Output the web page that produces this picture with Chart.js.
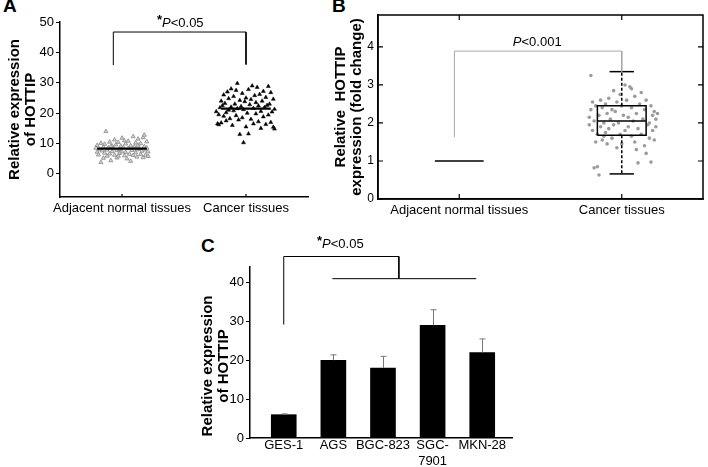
<!DOCTYPE html>
<html>
<head>
<meta charset="utf-8">
<script src="https://cdn.jsdelivr.net/npm/chart.js@4.4.0/dist/chart.umd.min.js"></script>
<style>
  body { margin: 0; background: #fff; width: 708px; height: 467px; position: relative; overflow: hidden;
         font-family: 'Liberation Sans', Arial, sans-serif; }
  canvas { position: absolute; }
  .tag { position: absolute; font-weight: bold; font-size: 19px; line-height: 1; color: #000; }
</style>
</head>
<body>
<div class="tag" style="left:3px;top:-4px">A</div>
<div class="tag" style="left:332px;top:-4px">B</div>
<div class="tag" style="left:201px;top:236px">C</div>
<canvas id="chartA" style="left:0;top:0" width="320" height="240"></canvas>
<canvas id="chartB" style="left:330px;top:0" width="378" height="240"></canvas>
<canvas id="chartC" style="left:195px;top:235px" width="330" height="232"></canvas>
<script>
// ---- data ----
const groupLabels = ['Adjacent normal tissues', 'Cancer tissues'];

// panel A: tissue samples (jitter offset from group centre, value)
const normalJitterA = [-0.21,-0.20,-0.20,-0.19,-0.18,-0.17,-0.17,-0.16,-0.15,-0.14,-0.14,-0.13,-0.12,-0.12,-0.11,-0.10,-0.10,-0.09,-0.08,-0.08,
  -0.07,-0.06,-0.06,-0.05,-0.04,-0.04,-0.03,-0.02,-0.02,-0.01,0.00,0.00,0.01,0.02,0.03,0.03,0.04,0.05,0.05,0.06,
  0.07,0.07,0.08,0.09,0.09,0.10,0.11,0.11,0.12,0.13,0.13,0.14,0.15,0.15,0.16,0.17,0.17,0.18,0.18,0.19,
  0.19,0.20,0.20,0.21,0.21,-0.15,-0.03,0.12,-0.09,0.02];
const normalValuesA = [8.5,7.2,9.4,6.3,8.0,3.8,10.1,7.6,8.8,6.9,9.8,14.0,7.9,5.9,8.6,10.5,6.6,4.4,9.2,7.4,
  8.3,11.2,6.2,9.6,7.7,5.3,10.4,8.1,6.8,9.1,7.3,11.8,8.7,6.0,9.9,7.1,5.0,8.4,10.8,6.5,
  4.2,9.3,7.8,12.3,6.1,8.9,10.2,7.0,5.6,9.5,11.5,8.2,6.4,10.0,7.5,12.0,5.4,9.0,12.8,7.9,
  6.2,8.6,10.6,7.3,5.8,5.2,5.9,8.0,9.0,10.9];
const cancerJitterA = [-0.24,-0.23,-0.22,-0.22,-0.21,-0.20,-0.20,-0.19,-0.18,-0.18,-0.17,-0.16,-0.16,-0.15,-0.14,-0.14,-0.13,-0.12,-0.12,-0.11,
  -0.10,-0.10,-0.09,-0.08,-0.08,-0.07,-0.07,-0.06,-0.05,-0.05,-0.04,-0.03,-0.03,-0.02,-0.02,-0.01,0.00,0.00,0.01,0.02,
  0.02,0.03,0.04,0.04,0.05,0.06,0.06,0.07,0.08,0.08,0.09,0.10,0.10,0.11,0.12,0.12,0.13,0.14,0.14,0.15,
  0.16,0.16,0.17,0.18,0.18,0.19,0.20,0.20,0.21,0.22,0.22,0.23,0.23];
const cancerValuesA = [20.5,16.5,19.5,16.2,21.8,24.0,16.8,22.5,19.0,26.0,23.2,17.5,20.2,27.0,21.0,24.8,18.2,22.0,28.0,16.0,
  25.5,20.8,23.0,19.2,27.5,29.8,21.5,17.8,24.2,13.0,22.2,26.5,18.5,10.3,21.2,23.8,15.5,25.0,20.0,13.2,
  27.8,22.8,18.0,24.5,29.0,21.6,16.5,25.8,19.8,23.5,28.5,17.2,22.4,26.2,20.6,15.0,24.0,18.8,27.2,21.9,
  16.3,25.2,22.6,19.4,28.8,23.0,17.0,26.8,20.4,15.4,24.6,21.3,14.8];
const meansA = [8.3, 21.5];
const yTicksA = [0, 10, 20, 30, 40, 50];

// panel B: fold change
const foldJitterB = [-0.19,-0.20,-0.20,-0.19,-0.18,-0.18,-0.17,-0.17,-0.16,-0.16,-0.15,-0.15,-0.14,-0.14,-0.13,-0.13,-0.12,-0.12,-0.11,-0.10,
  -0.10,-0.09,-0.09,-0.08,-0.08,-0.07,-0.06,-0.06,-0.05,-0.05,-0.04,-0.03,-0.03,-0.02,-0.01,0.00,0.00,0.01,0.02,0.02,
  0.03,0.04,0.04,0.05,0.06,0.06,0.07,0.08,0.08,0.09,0.10,0.10,0.11,0.12,0.12,0.13,0.14,0.14,0.15,0.15,
  0.16,0.17,0.17,0.18,0.18,0.19,0.19,0.20,0.20,0.21,0.21,0.22,0.06,-0.01,0.09,-0.11];
const foldValuesB = [3.25,2.15,1.95,2.35,1.8,2.55,2.05,0.82,1.5,2.45,0.85,1.7,2.2,0.63,1.9,2.6,1.55,2.4,2.0,1.75,
  2.5,2.25,1.45,2.65,1.85,2.1,2.35,1.6,2.85,1.95,2.3,1.35,2.55,2.0,1.7,2.45,1.45,2.2,3.0,1.8,
  2.6,1.9,2.15,2.95,1.65,2.4,2.05,1.5,2.7,2.25,0.95,1.85,2.5,2.8,1.7,2.1,1.4,2.35,1.2,2.6,
  1.95,2.0,1.6,2.45,0.97,1.8,2.2,2.3,1.55,2.1,1.9,2.25,2.9,2.75,1.3,1.65];
const normalFoldB = 1;
const cancerBoxB = [0.66, 1.68, 2.05, 2.45, 3.35]; // low whisker, Q1, median, Q3, high whisker
const yTicksB = [0, 1, 2, 3, 4];

// panel C: cell lines
const cellLines = ['GES-1', 'AGS', 'BGC-823', 'SGC-7901', 'MKN-28'];
const cellExpr = [6, 20, 18, 29, 22];
const cellErr = [0.2, 1.4, 3.0, 4.0, 3.5];
const yTicksC = [0, 10, 20, 30, 40];

// ---- shared setup ----
Chart.defaults.font.family = "'Liberation Sans', Arial, sans-serif";
Chart.defaults.font.size = 13;
Chart.defaults.color = '#000';
Chart.defaults.animation = false;
Chart.defaults.responsive = false;
Chart.defaults.plugins.legend.display = false;
Chart.defaults.plugins.tooltip.enabled = false;

const FONT = "'Liberation Sans', Arial, sans-serif";

function seg(points, color, width, dash, extra) {
  return Object.assign({
    type: 'scatter', data: points, showLine: true, borderColor: color, borderWidth: width,
    borderDash: dash || [], pointRadius: 0, fill: false, order: 0,
  }, extra || {});
}

function fixTicks(values) {
  return s => { s.ticks = values.map(v => ({ value: v })); };
}

// ticks drawn inside the plot area (matlab style) plus optional box
function innerTicks(opts) {
  return {
    id: 'innerTicks',
    afterDatasetsDraw(chart) {
      const { ctx, chartArea: a, scales } = chart;
      const len = opts.len || 5;
      ctx.save();
      ctx.strokeStyle = '#000';
      ctx.lineWidth = 1.2;
      ctx.beginPath();
      (opts.x || []).forEach(side => {
        scales.x.ticks.forEach(t => {
          const px = scales.x.getPixelForValue(t.value);
          const y0 = side === 'bottom' ? a.bottom : a.top;
          ctx.moveTo(px, y0);
          ctx.lineTo(px, side === 'bottom' ? y0 - len : y0 + len);
        });
      });
      (opts.y || []).forEach(side => {
        scales.y.ticks.forEach(t => {
          const py = scales.y.getPixelForValue(t.value);
          const x0 = side === 'left' ? a.left : a.right;
          ctx.moveTo(x0, py);
          ctx.lineTo(side === 'left' ? x0 + len : x0 - len, py);
        });
      });
      ctx.stroke();
      if (opts.box) {
        ctx.lineWidth = 1.5;
        ctx.strokeRect(a.left, a.top, a.right - a.left, a.bottom - a.top);
      }
      ctx.restore();
    }
  };
}

// "*P<0.05" style annotations placed in data coordinates
function pNote(items) {
  return {
    id: 'pNote',
    afterDraw(chart) {
      const { ctx, scales } = chart;
      ctx.save();
      ctx.fillStyle = '#000';
      ctx.textBaseline = 'middle';
      items.forEach(it => {
        const cx = scales.x.getPixelForValue(it.x);
        const cy = scales.y.getPixelForValue(it.y);
        const fs = it.size || 13;
        const parts = [];
        if (it.star) parts.push({ t: '*', f: `bold ${fs}px ${FONT}`, dy: -3 });
        parts.push({ t: 'P', f: `italic ${fs}px ${FONT}`, dy: 0 });
        parts.push({ t: it.text, f: `${fs}px ${FONT}`, dy: 0 });
        let w = 0;
        parts.forEach(p => { ctx.font = p.f; p.w = ctx.measureText(p.t).width; w += p.w; });
        let x = cx - w / 2;
        parts.forEach(p => { ctx.font = p.f; ctx.fillText(p.t, x, cy + p.dy); x += p.w; });
      });
      ctx.restore();
    }
  };
}

function errorBars(values, errs) {
  return {
    id: 'errorBars',
    afterDatasetsDraw(chart) {
      const { ctx, scales } = chart;
      ctx.save();
      ctx.strokeStyle = '#777';
      ctx.lineWidth = 1;
      ctx.beginPath();
      values.forEach((v, i) => {
        const px = Math.round(scales.x.getPixelForValue(i)) + 0.5;
        const top = scales.y.getPixelForValue(v + errs[i]);
        ctx.moveTo(px, scales.y.getPixelForValue(v));
        ctx.lineTo(px, top);
        ctx.moveTo(px - 3, top);
        ctx.lineTo(px + 3, top);
      });
      ctx.stroke();
      ctx.restore();
    }
  };
}

// rotated two-line axis title at a fixed spot (panel C sits lower than its axis centre)
function sideTitle(lines, xs, cy) {
  return {
    id: 'sideTitle',
    afterDraw(chart) {
      const { ctx } = chart;
      ctx.save();
      ctx.font = `bold 15px ${FONT}`;
      ctx.fillStyle = '#000';
      ctx.textAlign = 'center';
      ctx.textBaseline = 'middle';
      lines.forEach((t, i) => {
        ctx.save();
        ctx.translate(xs[i], cy);
        ctx.rotate(-Math.PI / 2);
        ctx.fillText(t, 0, 0);
        ctx.restore();
      });
      ctx.restore();
    }
  };
}

const yTitleFont = { family: FONT, size: 15, weight: 'bold', lineHeight: 1.05 };
const noGrid = { display: false, drawTicks: false };

// ---- panel A ----
new Chart(document.getElementById('chartA'), {
  type: 'scatter',
  data: {
    datasets: [
      seg([{ x: 0.93, y: 35.8 }, { x: 0.93, y: 46.7 }, { x: 2.0, y: 46.7 }, { x: 2.0, y: 36 }], '#000', 1, null, { clip: false }),
      seg([{ x: 0.8, y: meansA[0] }, { x: 1.2, y: meansA[0] }], '#000', 2.2),
      seg([{ x: 1.8, y: meansA[1] }, { x: 2.2, y: meansA[1] }], '#000', 2.2),
      {
        data: normalValuesA.map((v, i) => ({ x: 1 + normalJitterA[i], y: v })),
        pointStyle: 'triangle', pointRadius: 2.4, backgroundColor: '#d4d4d4', borderColor: '#8a8a8a', borderWidth: 0.8, order: 2,
      },
      {
        data: cancerValuesA.map((v, i) => ({ x: 2 + cancerJitterA[i], y: v })),
        pointStyle: 'triangle', pointRadius: 2.3, backgroundColor: '#000', borderColor: '#000', borderWidth: 0.5, order: 1,
      },
    ],
  },
  options: {
    layout: { padding: { top: 22, right: 12, left: 0, bottom: 0 } },
    scales: {
      x: {
        type: 'linear', min: 0.5, max: 2.5,
        afterBuildTicks: fixTicks([1, 2]),
        afterFit: s => { s.height = 43; },
        grid: noGrid,
        border: { color: '#000', width: 1.5 },
        ticks: { padding: 4, callback: (v, i) => groupLabels[i] },
      },
      y: {
        min: -7.6, max: 50,
        afterBuildTicks: fixTicks(yTicksA),
        afterFit: s => { s.width = 60; },
        grid: { drawOnChartArea: false, tickLength: 4, color: '#000' },
        border: { color: '#000', width: 1.5 },
        ticks: { padding: 2 },
        title: { display: true, text: ['Relative expression', 'of HOTTIP'], font: yTitleFont, padding: { top: 7, bottom: 0 } },
      },
    },
  },
  plugins: [innerTicks({ x: ['bottom'], len: 3 }), pNote([{ x: 1.47, y: 49.5, star: true, text: '<0.05' }])],
});

// ---- panel B ----
const [wLo, q1, med, q3, wHi] = cancerBoxB;
new Chart(document.getElementById('chartB'), {
  type: 'scatter',
  data: {
    datasets: [
      seg([{ x: 0.97, y: 1.63 }, { x: 0.97, y: 3.89 }, { x: 2.0, y: 3.89 }, { x: 2.0, y: wHi }], '#a8a8a8', 1),
      seg([{ x: 0.85, y: normalFoldB }, { x: 1.15, y: normalFoldB }], '#000', 1.5),
      seg([{ x: 1.85, y: q1 }, { x: 2.15, y: q1 }, { x: 2.15, y: q3 }, { x: 1.85, y: q3 }, { x: 1.85, y: q1 }], '#000', 1.5),
      seg([{ x: 1.85, y: med }, { x: 2.15, y: med }], '#000', 1.5),
      seg([{ x: 2, y: q3 }, { x: 2, y: wHi }], '#000', 1.5, [3, 2]),
      seg([{ x: 2, y: q1 }, { x: 2, y: wLo }], '#000', 1.5, [3, 2]),
      seg([{ x: 1.925, y: wHi }, { x: 2.075, y: wHi }], '#000', 1.5),
      seg([{ x: 1.925, y: wLo }, { x: 2.075, y: wLo }], '#000', 1.5),
      {
        data: foldValuesB.map((v, i) => ({ x: 2 + foldJitterB[i], y: v })),
        pointRadius: 1.8, backgroundColor: '#9c9c9c', borderWidth: 0, order: 3,
      },
    ],
  },
  options: {
    layout: { padding: { top: 15, right: 5, left: 0, bottom: 0 } },
    scales: {
      x: {
        type: 'linear', min: 0.5, max: 2.5,
        afterBuildTicks: fixTicks([1, 2]),
        afterFit: s => { s.height = 41; },
        grid: noGrid,
        border: { color: '#000', width: 1.5 },
        ticks: { padding: 4, callback: (v, i) => groupLabels[i] },
      },
      y: {
        min: 0, max: 4.84,
        afterBuildTicks: fixTicks(yTicksB),
        afterFit: s => { s.width = 48; },
        grid: noGrid,
        border: { color: '#000', width: 1.5 },
        ticks: { padding: 4, font: { size: 12 } },
        title: { display: true, text: ['Relative  HOTTIP', 'expression (fold change)'], font: yTitleFont, padding: { top: 3, bottom: 0 } },
      },
    },
  },
  plugins: [innerTicks({ x: ['bottom', 'top'], y: ['left', 'right'], box: true, len: 5 }),
            pNote([{ x: 1.48, y: 4.13, star: false, text: '<0.001' }])],
});

// ---- panel C ----
new Chart(document.getElementById('chartC'), {
  type: 'bar',
  data: {
    datasets: [
      seg([{ x: 0, y: 29.2 }, { x: 0, y: 46.7 }, { x: 2.32, y: 46.7 }, { x: 2.32, y: 41 }], '#000', 1, null, { type: 'line', clip: false }),
      seg([{ x: 0.98, y: 41 }, { x: 3.88, y: 41 }], '#000', 1, null, { type: 'line', clip: false }),
      {
        data: cellExpr.map((v, i) => ({ x: i, y: v })),
        backgroundColor: '#000', borderWidth: 0, barThickness: 25, order: 1,
      },
    ],
  },
  options: {
    layout: { padding: { top: 32, right: 13, left: 0, bottom: 0 } },
    scales: {
      x: {
        type: 'linear', min: -0.68, max: 4.6, offset: false,
        afterBuildTicks: fixTicks(cellLines.map((_, i) => i)),
        afterFit: s => { s.height = 29; },
        grid: noGrid,
        border: { color: '#000', width: 1.5 },
        ticks: {
          padding: 0, maxRotation: 0, autoSkip: false, font: { size: 13, lineHeight: 1.2 },
          callback: (v, i) => {
            const name = cellLines[i];
            return name.length > 7 ? [name.slice(0, name.indexOf('-') + 1), name.slice(name.indexOf('-') + 1)] : name;
          },
        },
      },
      y: {
        min: 0, max: 44,
        afterBuildTicks: fixTicks(yTicksC),
        afterFit: s => { s.width = 55; },
        grid: { drawOnChartArea: false, tickLength: 4, color: '#000' },
        border: { color: '#000', width: 1.5 },
        ticks: { padding: 2 },
      },
    },
  },
  plugins: [errorBars(cellExpr, cellErr), pNote([{ x: 1.14, y: 49.7, star: true, text: '<0.05' }]),
            sideTitle(['Relative expression', 'of HOTTIP'], [13, 29], 131)],
});
</script>
</body>
</html>
